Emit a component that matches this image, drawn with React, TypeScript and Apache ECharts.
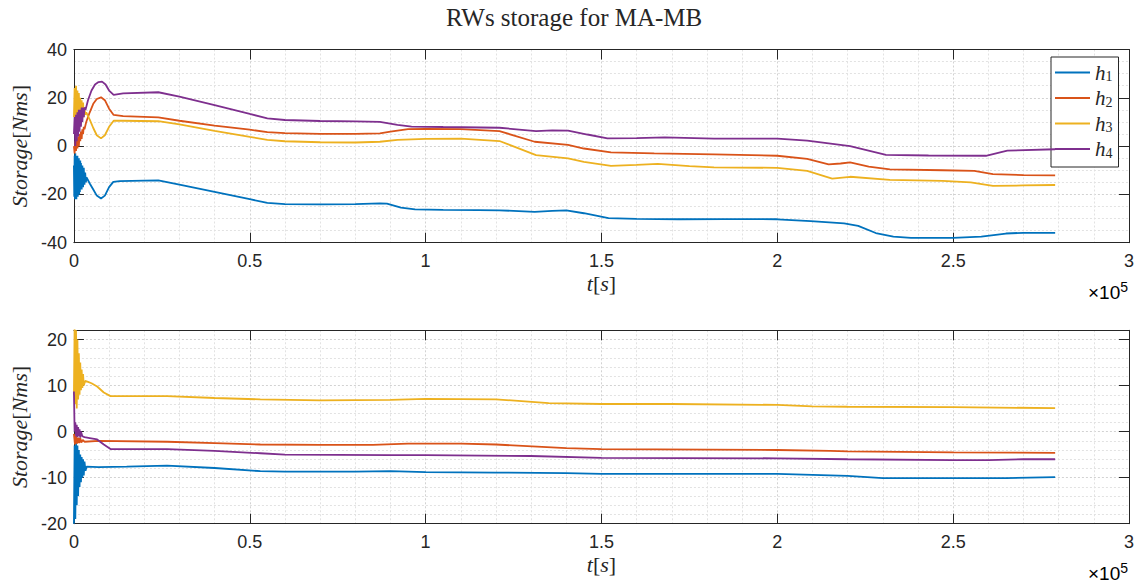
import React, { useEffect, useRef } from "react";
import * as echarts from "echarts";

// time in units of 1e5 s, storage in Nms
const TOP_H1: number[][] = [
  [0, -8], [0.001, -21], [0.002, -4], [0.003, -22], [0.004, -3], [0.005, -21], [0.006, -4], [0.007, -22],
  [0.008, -5], [0.009, -20], [0.01, -4], [0.011, -21], [0.012, -5], [0.013, -19], [0.014, -5], [0.015, -20],
  [0.016, -6], [0.017, -19], [0.018, -6], [0.019, -18], [0.02, -7], [0.022, -18], [0.024, -8], [0.026, -17],
  [0.028, -9], [0.03, -16], [0.032, -11], [0.034, -15], [0.036, -13],
  [0.045, -15.5], [0.055, -18], [0.065, -20.5], [0.077, -21.7], [0.088, -20.5], [0.1, -17], [0.112, -14.8],
  [0.13, -14.5], [0.2, -14.3], [0.24, -14.2], [0.3, -16], [0.4, -19], [0.5, -22], [0.55, -23.5], [0.6, -24],
  [0.7, -24.1], [0.8, -24], [0.87, -23.7], [0.89, -23.8], [0.93, -25.5], [0.97, -26.2], [1.05, -26.4],
  [1.15, -26.5], [1.21, -26.6], [1.31, -27.2], [1.36, -26.8], [1.4, -26.6], [1.45, -27.8], [1.52, -29.8],
  [1.6, -30.1], [1.72, -30.3], [1.85, -30.2], [2.0, -30.3], [2.095, -31.1], [2.19, -32], [2.23, -33],
  [2.28, -36], [2.33, -37.5], [2.38, -38], [2.5, -38], [2.58, -37.5], [2.65, -36.2], [2.7, -35.9], [2.79, -35.9],
];
const TOP_H2: number[][] = [
  [0, 0], [0.002, -3], [0.004, 2], [0.006, -2], [0.008, 3], [0.01, -1], [0.012, 4], [0.014, 0], [0.016, 5],
  [0.018, 2], [0.02, 6], [0.022, 3], [0.024, 7], [0.026, 5], [0.028, 8], [0.03, 7], [0.035, 10], [0.045, 14],
  [0.055, 17.5], [0.065, 19.5], [0.077, 20.2], [0.088, 19], [0.1, 15.5], [0.113, 12.9], [0.14, 12.4],
  [0.24, 11.9], [0.3, 10.5], [0.4, 8.5], [0.5, 6.8], [0.55, 5.8], [0.6, 5.4], [0.7, 5.1], [0.8, 5.1],
  [0.87, 5.3], [0.9, 6], [0.95, 7], [1.0, 7.1], [1.1, 7], [1.21, 6.2], [1.31, 1.8], [1.405, 0.5], [1.45, -1],
  [1.527, -2.6], [1.65, -3], [1.82, -3.4], [2.0, -4], [2.085, -5.3], [2.146, -7.6], [2.18, -7.2],
  [2.207, -6.7], [2.26, -8.5], [2.32, -9.6], [2.47, -10], [2.56, -10.3], [2.613, -11.6], [2.7, -12], [2.79, -12.1],
];
const TOP_H3: number[][] = [
  [0, 12], [0.002, 24], [0.004, 10], [0.006, 25], [0.008, 11], [0.01, 23], [0.012, 10], [0.014, 22],
  [0.016, 11], [0.018, 20], [0.02, 11], [0.022, 19], [0.024, 12], [0.026, 18], [0.028, 12], [0.03, 16],
  [0.032, 13], [0.035, 14], [0.045, 11], [0.055, 7.5], [0.065, 4.5], [0.077, 3.2], [0.088, 4.5], [0.1, 8],
  [0.113, 10.5], [0.14, 10.5], [0.24, 10.3], [0.3, 9], [0.4, 6.3], [0.5, 3.8], [0.55, 2.6], [0.6, 2],
  [0.7, 1.6], [0.8, 1.5], [0.87, 1.8], [0.92, 2.6], [1.0, 3], [1.1, 3.1], [1.21, 2.1], [1.314, -3.7],
  [1.405, -5.1], [1.45, -6.5], [1.527, -8.2], [1.6, -7.8], [1.66, -7.4], [1.75, -8.3], [1.82, -8.8],
  [2.0, -9], [2.085, -10.3], [2.156, -13.5], [2.207, -12.7], [2.32, -14], [2.47, -14.4], [2.55, -15],
  [2.613, -16.5], [2.7, -16.3], [2.79, -16.1],
];
const TOP_H4: number[][] = [
  [0, 5], [0.002, 12], [0.004, 0], [0.006, 13], [0.008, 2], [0.01, 14], [0.012, 4], [0.014, 15], [0.016, 6],
  [0.018, 15], [0.02, 8], [0.022, 16], [0.024, 10], [0.026, 16], [0.028, 12], [0.03, 16], [0.033, 15],
  [0.04, 19], [0.05, 23], [0.06, 25.5], [0.07, 26.5], [0.08, 26.7], [0.09, 25.5], [0.1, 23], [0.113, 21.2],
  [0.14, 21.8], [0.24, 22.3], [0.3, 20.5], [0.4, 17], [0.5, 13.3], [0.55, 11.5], [0.6, 10.8], [0.7, 10.4],
  [0.8, 10.2], [0.87, 10], [0.92, 8.8], [0.96, 8.1], [1.05, 7.9], [1.21, 7.6], [1.314, 6.2], [1.36, 6.5],
  [1.405, 6.4], [1.46, 4.8], [1.517, 3.2], [1.6, 3.3], [1.68, 3.6], [1.82, 3.1], [2.0, 3.1], [2.085, 2.3],
  [2.207, 0], [2.309, -3.6], [2.43, -3.9], [2.593, -4], [2.654, -1.9], [2.79, -1.3],
];

const BOT_H1: number[][] = [
  [0, -20], [0.002, -3], [0.004, -19], [0.006, -2.5], [0.008, -16], [0.01, -3], [0.012, -14], [0.014, -4],
  [0.016, -12], [0.018, -5], [0.02, -11], [0.022, -5.5], [0.024, -10], [0.026, -6], [0.028, -9.5],
  [0.03, -6.5], [0.033, -8.5], [0.036, -7.6], [0.07, -7.7], [0.15, -7.6], [0.265, -7.4], [0.4, -7.9],
  [0.53, -8.6], [0.6, -8.7], [0.8, -8.7], [0.9, -8.6], [1.0, -8.8], [1.2, -8.9], [1.4, -9], [1.5, -9.2],
  [1.8, -9.2], [2.0, -9.2], [2.2, -9.6], [2.3, -10.1], [2.5, -10.1], [2.65, -10.1], [2.79, -9.9],
];
const BOT_H2: number[][] = [
  [0, -0.5], [0.003, -2.8], [0.006, -1], [0.009, -2.6], [0.012, -1.3], [0.015, -2.5], [0.018, -1.4],
  [0.021, -2.4], [0.025, -1.8], [0.03, -2.2], [0.07, -2.0], [0.265, -2.2], [0.4, -2.5], [0.53, -2.8],
  [0.7, -2.9], [0.85, -2.9], [0.95, -2.6], [1.1, -2.6], [1.2, -2.8], [1.4, -3.6], [1.5, -3.8], [2.0, -4.0],
  [2.15, -4.2], [2.2, -4.3], [2.5, -4.5], [2.79, -4.6],
];
const BOT_H3: number[][] = [
  [0, 8], [0.002, 23], [0.004, 6], [0.006, 22], [0.008, 5], [0.01, 20], [0.012, 7], [0.014, 17], [0.016, 8],
  [0.018, 15], [0.02, 9], [0.022, 13.5], [0.024, 9.5], [0.026, 12.5], [0.028, 10], [0.032, 11], [0.04, 10.8],
  [0.05, 10.5], [0.066, 9.8], [0.085, 8.5], [0.104, 7.7], [0.265, 7.7], [0.4, 7.3], [0.53, 7.0], [0.7, 6.8],
  [0.9, 6.9], [1.0, 7.1], [1.2, 7.0], [1.35, 6.2], [1.5, 6.0], [1.7, 6.0], [2.0, 5.8], [2.1, 5.5], [2.2, 5.4],
  [2.5, 5.3], [2.79, 5.1],
];
const BOT_H4: number[][] = [
  [0, 8.7], [0.002, 0], [0.004, 2], [0.006, -1], [0.008, 1.5], [0.01, -1.2], [0.012, 1], [0.014, -1],
  [0.016, 0.5], [0.018, -1.3], [0.02, 0], [0.024, -1], [0.03, -1.2], [0.045, -1.4], [0.066, -1.7],
  [0.085, -2.8], [0.104, -3.8], [0.265, -3.8], [0.4, -4.2], [0.53, -4.7], [0.6, -5], [0.9, -5.1], [1.0, -5.1],
  [1.3, -5.3], [1.5, -5.7], [2.0, -5.8], [2.2, -6.0], [2.5, -6.2], [2.6, -6.2], [2.7, -6.0], [2.79, -6.0],
];

const SERIES_NAMES = ["h1", "h2", "h3", "h4"];
const COLORS = ["#0072BD", "#D95319", "#EDB120", "#7E2F8E"];
const TITLE = "RWs storage for MA-MB";
const X_TICKS = { min: 0, max: 3, interval: 0.5 };
const TOP_Y = { min: -40, max: 40, interval: 20, minorSplit: 4 };
const BOT_Y = { min: -20, max: 22, interval: 10, minorSplit: 5 };

const AX = "#262626";
const SANS = "Liberation Sans";
const SERIF = "Liberation Serif";
const GRID_LEFT = 73.5;
const GRID_W = 1055.5;

const nameRich = {
  i: { fontFamily: SERIF, fontStyle: "italic", fontSize: 22, color: AX },
  r: { fontFamily: SERIF, fontStyle: "normal", fontSize: 22, color: AX },
};

function xAxes(gridIndex: number) {
  const common = {
    type: "value",
    gridIndex,
    min: X_TICKS.min,
    max: X_TICKS.max,
    interval: X_TICKS.interval,
    axisLine: { show: true, onZero: false, lineStyle: { color: AX, width: 1 } },
    axisTick: { show: true, inside: true, length: 10, lineStyle: { color: AX } },
  };
  return [
    {
      ...common,
      position: "bottom",
      axisLabel: { show: true, margin: 9, fontFamily: SANS, fontSize: 18, color: AX },
      splitLine: { show: true, lineStyle: { color: "#d2d2d2", type: [2, 2], width: 1 } },
      minorTick: { show: false, splitNumber: 5 },
      minorSplitLine: { show: true, lineStyle: { color: "#e2e2e2", type: [2, 2], width: 1 } },
      name: "{i|t}{r|[}{i|s}{r|]}",
      nameLocation: "middle",
      nameGap: 30,
      nameTextStyle: { rich: nameRich },
    },
    {
      ...common,
      position: "top",
      axisLabel: { show: false },
      splitLine: { show: false },
    },
  ];
}

function yAxes(gridIndex: number, cfg: { min: number; max: number; interval: number; minorSplit: number }) {
  const common = {
    type: "value",
    gridIndex,
    min: cfg.min,
    max: cfg.max,
    interval: cfg.interval,
    axisLine: { show: true, onZero: false, lineStyle: { color: AX, width: 1 } },
    axisTick: { show: true, inside: true, length: 10, lineStyle: { color: AX } },
  };
  return [
    {
      ...common,
      position: "left",
      axisLabel: { show: true, margin: 7, fontFamily: SANS, fontSize: 18, color: AX },
      splitLine: { show: true, lineStyle: { color: "#d2d2d2", type: [2, 2], width: 1 } },
      minorTick: { show: false, splitNumber: cfg.minorSplit },
      minorSplitLine: { show: true, lineStyle: { color: "#e2e2e2", type: [2, 2], width: 1 } },
      name: "{i|Storage}{r|[}{i|Nms}{r|]}",
      nameLocation: "middle",
      nameGap: 38,
      nameRotate: 90,
      nameTextStyle: { rich: nameRich },
    },
    {
      ...common,
      position: "right",
      axisLabel: { show: false },
      splitLine: { show: false },
    },
  ];
}

function makeSeries(data: number[][], idx: number, axis: number) {
  return {
    type: "line",
    name: SERIES_NAMES[idx],
    data,
    xAxisIndex: axis,
    yAxisIndex: axis,
    symbol: "none",
    showSymbol: false,
    clip: true,
    color: COLORS[idx],
    lineStyle: { width: 1.8, color: COLORS[idx] },
    z: 3 + idx,
  };
}

function expText(top: number) {
  return {
    type: "text",
    right: 11,
    top,
    style: {
      text: "{a|×10}{b|5}",
      rich: {
        a: { fontFamily: SANS, fontSize: 19, color: AX },
        b: { fontFamily: SANS, fontSize: 14, color: AX, verticalAlign: "top", padding: [0, 0, 10, 0] },
      },
    },
  };
}

export default function App() {
  const ref = useRef<HTMLDivElement>(null);
  useEffect(() => {
    if (!ref.current) return;
    const chart = echarts.init(ref.current, undefined, { renderer: "svg" });
    const option: any = {
      animation: false,
      backgroundColor: "#ffffff",
      title: {
        text: TITLE,
        left: 444,
        top: 3,
        padding: [2, 2, 2, 2],
        textStyle: { fontFamily: SERIF, fontSize: 25, fontWeight: "normal", color: AX },
      },
      grid: [
        { left: GRID_LEFT, top: 49.5, width: GRID_W, height: 193.2, containLabel: false },
        { left: GRID_LEFT, top: 330.3, width: GRID_W, height: 193.4, containLabel: false },
      ],
      xAxis: [...xAxes(0), ...xAxes(1)],
      yAxis: [...yAxes(0, TOP_Y), ...yAxes(1, BOT_Y)],
      legend: {
        show: true,
        orient: "vertical",
        left: 1051,
        top: 57,
        icon: "rect",
        itemWidth: 35,
        itemHeight: 2,
        itemGap: 4,
        padding: [5, 6, 7, 4],
        backgroundColor: "#ffffff",
        borderColor: AX,
        borderWidth: 1,
        borderRadius: 0,
        data: SERIES_NAMES,
        formatter: (n: string) => `{h|h}{s|${n.slice(1)}}`,
        textStyle: {
          rich: {
            h: { fontFamily: SERIF, fontStyle: "italic", fontSize: 21, lineHeight: 22, color: AX },
            s: { fontFamily: SERIF, fontSize: 14, lineHeight: 12, verticalAlign: "bottom", color: AX },
          },
        },
      },
      graphic: [expText(280), expText(561)],
      series: [
        makeSeries(TOP_H1, 0, 0),
        makeSeries(TOP_H2, 1, 0),
        makeSeries(TOP_H3, 2, 0),
        makeSeries(TOP_H4, 3, 0),
        makeSeries(BOT_H1, 0, 2),
        makeSeries(BOT_H2, 1, 2),
        makeSeries(BOT_H3, 2, 2),
        makeSeries(BOT_H4, 3, 2),
      ],
    };
    chart.setOption(option);
    return () => chart.dispose();
  }, []);
  return (
    <div
      ref={ref}
      style={{ position: "absolute", left: 0, top: 0, width: 1139, height: 583, background: "#fff" }}
    />
  );
}
